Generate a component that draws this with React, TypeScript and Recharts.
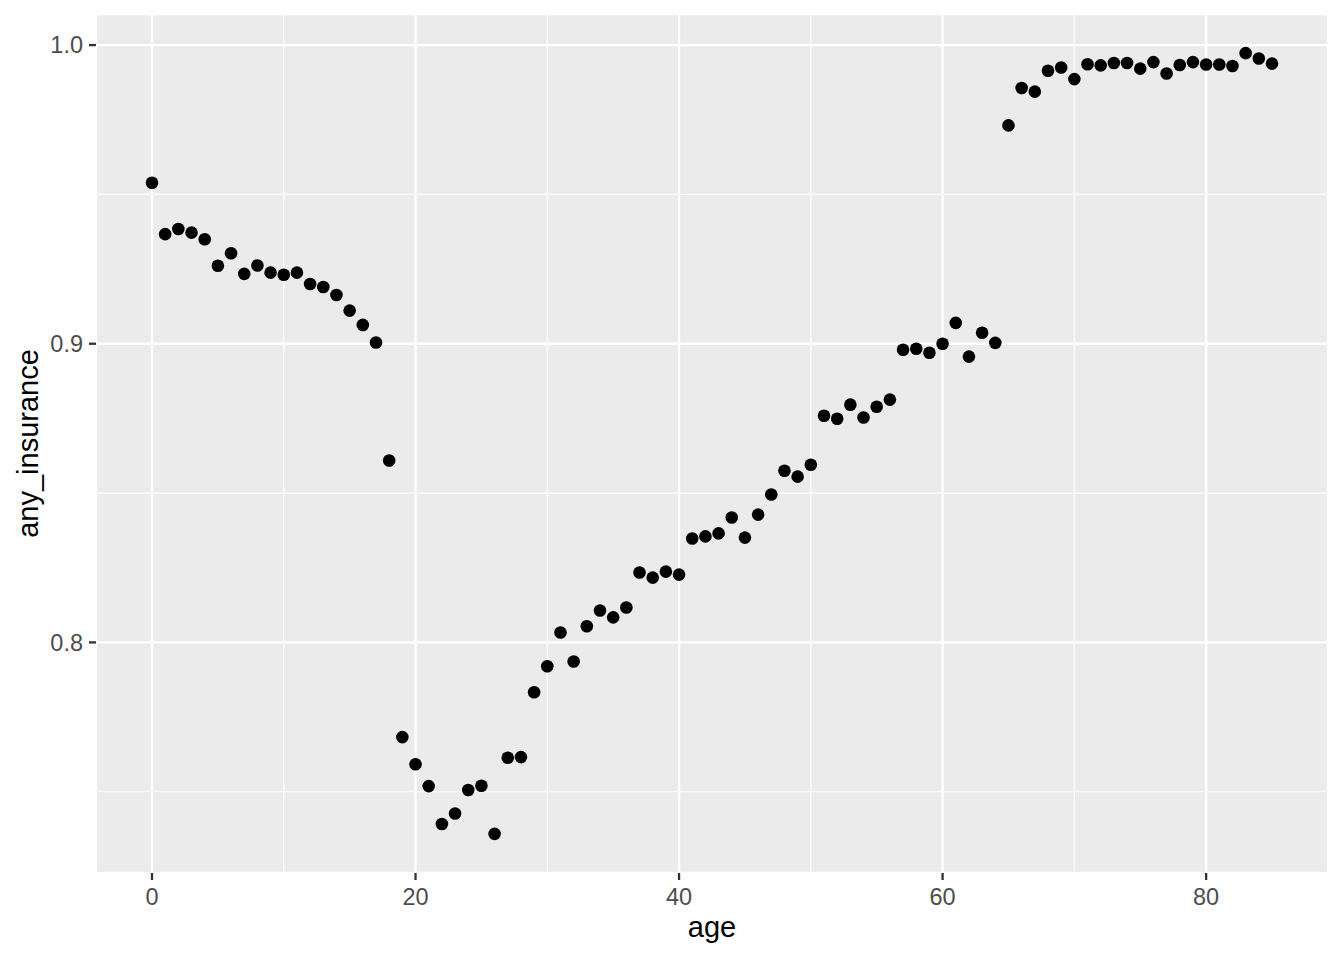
import { CartesianGrid, ReferenceLine, Scatter, ScatterChart, XAxis, YAxis } from "recharts";

const ages: number[] = Array.from({ length: 86 }, (_, i) => i);

const anyInsurance: number[] = [
    0.9539, 0.9367, 0.9384, 0.9372, 0.935, 0.9261, 0.9303, 0.9234, 0.9262, 0.9238,
    0.9231, 0.9238, 0.92, 0.919, 0.9163, 0.9111, 0.9063, 0.9004, 0.8609, 0.7683,
    0.7592, 0.7519, 0.7392, 0.7427, 0.7506, 0.752, 0.7359, 0.7614, 0.7616, 0.7833,
    0.792, 0.8033, 0.7936, 0.8054, 0.8107, 0.8084, 0.8117, 0.8234, 0.8217, 0.8237,
    0.8227, 0.8348, 0.8355, 0.8365, 0.8418, 0.8351, 0.8428, 0.8495, 0.8575, 0.8555,
    0.8595, 0.8759, 0.8749, 0.8796, 0.8753, 0.8789, 0.8813, 0.898, 0.8983, 0.897,
    0.9, 0.907, 0.8957, 0.9037, 0.9003, 0.9731, 0.9856, 0.9844, 0.9914, 0.9925,
    0.9886, 0.9936, 0.9932, 0.994, 0.994, 0.9921, 0.9943, 0.9905, 0.9933, 0.9943,
    0.9935, 0.9935, 0.993, 0.9973, 0.9955, 0.9938,
];

const xTicks = [0, 20, 40, 60, 80];
const xMinor = [10, 30, 50, 70];
const yTicks = [0.8, 0.9, 1.0];
const yMinor = [0.75, 0.85, 0.95];

const data = ages.map((age, i) => ({ age, any_insurance: anyInsurance[i] }));

const FONT = "'Liberation Sans', Arial, sans-serif";

export default function App() {
    return (
        <div style={{ position: "absolute", left: 0, top: 0, width: 1344, height: 960, background: "#fff" }}>
            <ScatterChart width={1344} height={960} margin={{ top: 14, right: 16, left: 0, bottom: 0 }}>
                <CartesianGrid fill="#EBEBEB" fillOpacity={1} stroke="#fff" strokeWidth={2.3} />

                {xMinor.map((v) => (
                    <ReferenceLine key={"x" + v} x={v} stroke="#fff" strokeWidth={1.2} />
                ))}
                {yMinor.map((v) => (
                    <ReferenceLine key={"y" + v} y={v} stroke="#fff" strokeWidth={1.2} />
                ))}

                <XAxis
                    type="number"
                    dataKey="age"
                    domain={[-4.25, 89.25]}
                    ticks={xTicks}
                    allowDataOverflow
                    height={87}
                    axisLine={false}
                    tickSize={7}
                    tickMargin={8}
                    tickLine={{ stroke: "#333", strokeWidth: 2.3 }}
                    tick={{ fill: "#4D4D4D", fontSize: 23.5, fontFamily: FONT }}
                    label={{
                        content: (props: any) => {
                            const vb = props.viewBox;
                            return (
                                <text x={vb.x + vb.width / 2} y={937} textAnchor="middle" fill="#000" fontSize={29} fontFamily={FONT}>
                                    age
                                </text>
                            );
                        },
                    }}
                />

                <YAxis
                    type="number"
                    dataKey="any_insurance"
                    domain={[0.7228, 1.0104]}
                    ticks={yTicks}
                    allowDataOverflow
                    width={96}
                    axisLine={false}
                    tickSize={7}
                    tickMargin={6}
                    tickFormatter={(v: number) => v.toFixed(1)}
                    tickLine={{ stroke: "#333", strokeWidth: 2.3 }}
                    tick={{ fill: "#4D4D4D", fontSize: 23.5, fontFamily: FONT }}
                    label={{
                        content: (props: any) => {
                            const vb = props.viewBox;
                            const cy = vb.y + vb.height / 2;
                            return (
                                <text x={38} y={cy} transform={`rotate(-90, 38, ${cy})`} textAnchor="middle" fill="#000" fontSize={29} fontFamily={FONT}>
                                    any_insurance
                                </text>
                            );
                        },
                    }}
                />

                <Scatter
                    data={data}
                    isAnimationActive={false}
                    shape={(p: any) => <circle cx={p.cx} cy={p.cy} r={6.3} fill="#000" />}
                />
            </ScatterChart>
        </div>
    );
}
